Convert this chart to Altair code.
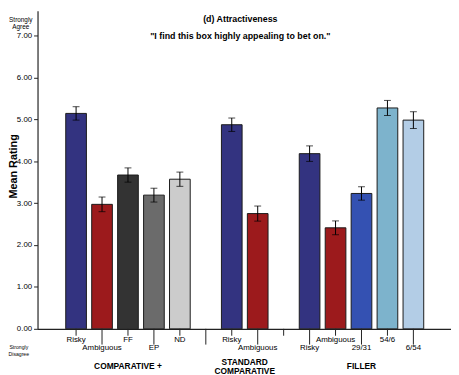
import altair as alt
import pandas as pd

# ---- data ----
slots = list(range(14))
labels = ["Risky", "Ambiguous", "FF", "EP", "ND", "", "Risky", "Ambiguous", "",
          "Risky", "Ambiguous", "29/31", "54/6", "6/54"]
means = [5.14, 2.97, 3.67, 3.19, 3.57, None, 4.87, 2.75, None,
         4.18, 2.41, 3.23, 5.27, 4.98]
ci_half = [0.16, 0.175, 0.17, 0.165, 0.17, None, 0.16, 0.18, None,
           0.185, 0.165, 0.16, 0.18, 0.20]
colors = ["#333380", "#9c1a1c", "#333333", "#6b6b6b", "#cccccc", None,
          "#333380", "#9c1a1c", None,
          "#333380", "#9c1a1c", "#3451b2", "#7db3cc", "#b3cde6"]

group_labels = ["COMPARATIVE +", "FILLER"]
group_centers = [2, 11]
stacked_label = ["STANDARD", "COMPARATIVE"]
stacked_center = [6.5]

y_ticks = [0, 1, 2, 3, 4, 5, 6, 7]

FONT = "Liberation Sans"
W, H = 420, 323

df = pd.DataFrame({"slot": slots, "label": labels, "mean": means,
                   "ci": ci_half, "color": colors})
df["parity"] = [s % 2 for s in slots]

xscale = alt.Scale(domain=[-1.296, 14.26], nice=False, zero=False)
yscale = alt.Scale(domain=[0, 7.587], nice=False, zero=False)

base = alt.Chart(df)

bars = base.transform_filter("isValid(datum.mean)").mark_bar(
    size=21, stroke="#1a1a1a", strokeWidth=1
).encode(
    x=alt.X("slot:Q", scale=xscale,
            axis=alt.Axis(labels=False, ticks=False, grid=False, title=None,
                          domainColor="#222222", domainWidth=1.2)),
    y=alt.Y("mean:Q", scale=yscale,
            axis=alt.Axis(values=y_ticks, format=".2f", grid=False, title=None,
                          labelFont=FONT, labelFontSize=8, labelColor="#000000",
                          tickSize=4, tickColor="#222222", labelPadding=2,
                          domainColor="#222222", domainWidth=1.2)),
    color=alt.Color("color:N", scale=None),
)

err_base = base.transform_filter("isValid(datum.mean)").transform_calculate(
    lo="datum.mean - datum.ci", hi="datum.mean + datum.ci")

err_rule = err_base.mark_rule(color="#000000", strokeWidth=1).encode(
    x=alt.X("slot:Q", scale=xscale),
    y=alt.Y("lo:Q", scale=yscale),
    y2="hi:Q",
)
cap_hi = err_base.mark_tick(color="#000000", orient="horizontal", size=7,
                            thickness=1).encode(
    x=alt.X("slot:Q", scale=xscale), y=alt.Y("hi:Q", scale=yscale))
cap_lo = err_base.mark_tick(color="#000000", orient="horizontal", size=7,
                            thickness=1).encode(
    x=alt.X("slot:Q", scale=xscale), y=alt.Y("lo:Q", scale=yscale))

ticks_short = base.transform_filter("datum.parity == 0").mark_rule(
    color="#222222", strokeWidth=1).encode(
    x=alt.X("slot:Q", scale=xscale), y=alt.value(H), y2=alt.value(H + 7))
ticks_long = base.transform_filter("datum.parity == 1").mark_rule(
    color="#222222", strokeWidth=1).encode(
    x=alt.X("slot:Q", scale=xscale), y=alt.value(H), y2=alt.value(H + 16))

lab_up = base.transform_filter("datum.parity == 0").mark_text(
    font=FONT, fontSize=8, color="#000000", baseline="middle").encode(
    x=alt.X("slot:Q", scale=xscale), y=alt.value(H + 11), text="label:N")
lab_low = base.transform_filter("datum.parity == 1").mark_text(
    font=FONT, fontSize=8, color="#000000", baseline="middle").encode(
    x=alt.X("slot:Q", scale=xscale), y=alt.value(H + 20), text="label:N")

gdf = pd.DataFrame({"name": group_labels, "center": group_centers})
groups = alt.Chart(gdf).mark_text(
    font=FONT, fontSize=8.5, fontWeight="bold", color="#000000",
    baseline="middle").encode(
    x=alt.X("center:Q", scale=xscale), y=alt.value(H + 38), text="name:N")

sdf = pd.DataFrame({"center": stacked_center})
stacked = alt.Chart(sdf).mark_text(
    font=FONT, fontSize=8.5, fontWeight="bold", color="#000000",
    baseline="middle", lineHeight=9, text=stacked_label).encode(
    x=alt.X("center:Q", scale=xscale), y=alt.value(H + 33.5))

def note(txt, x, y, size, weight="normal", angle=0, lh=None):
    kw = dict(font=FONT, fontSize=size, fontWeight=weight, color="#000000",
              baseline="middle", align="center", text=txt)
    if angle:
        kw["angle"] = angle
    if lh:
        kw["lineHeight"] = lh
    return alt.Chart(pd.DataFrame({"k": [0]})).mark_text(**kw).encode(
        x=alt.value(x), y=alt.value(y))

title1 = note("(d) Attractiveness", 206, 8, 9, "bold")
title2 = note("\"I find this box highly appealing to bet on.\"", 206, 26, 9, "bold")
agree = note(["Strongly", "Agree"], -17, 9.5, 6.5, lh=7)
disagree = note(["Strongly", "Disagree"], -19, 341, 5.2, lh=8)
ytitle = note("Mean Rating", -24, 158, 11, "bold", angle=270)

chart = alt.layer(
    bars, err_rule, cap_hi, cap_lo, ticks_short, ticks_long, lab_up, lab_low,
    groups, stacked, title1, title2, agree, disagree, ytitle
).properties(
    width=W, height=H,
    autosize=alt.AutoSizeParams(type="none"),
    padding={"left": 30, "top": 0, "right": 0, "bottom": 44},
).configure_view(stroke=None)

chart.save("out.html", embed_options={"renderer": "svg", "actions": False})
